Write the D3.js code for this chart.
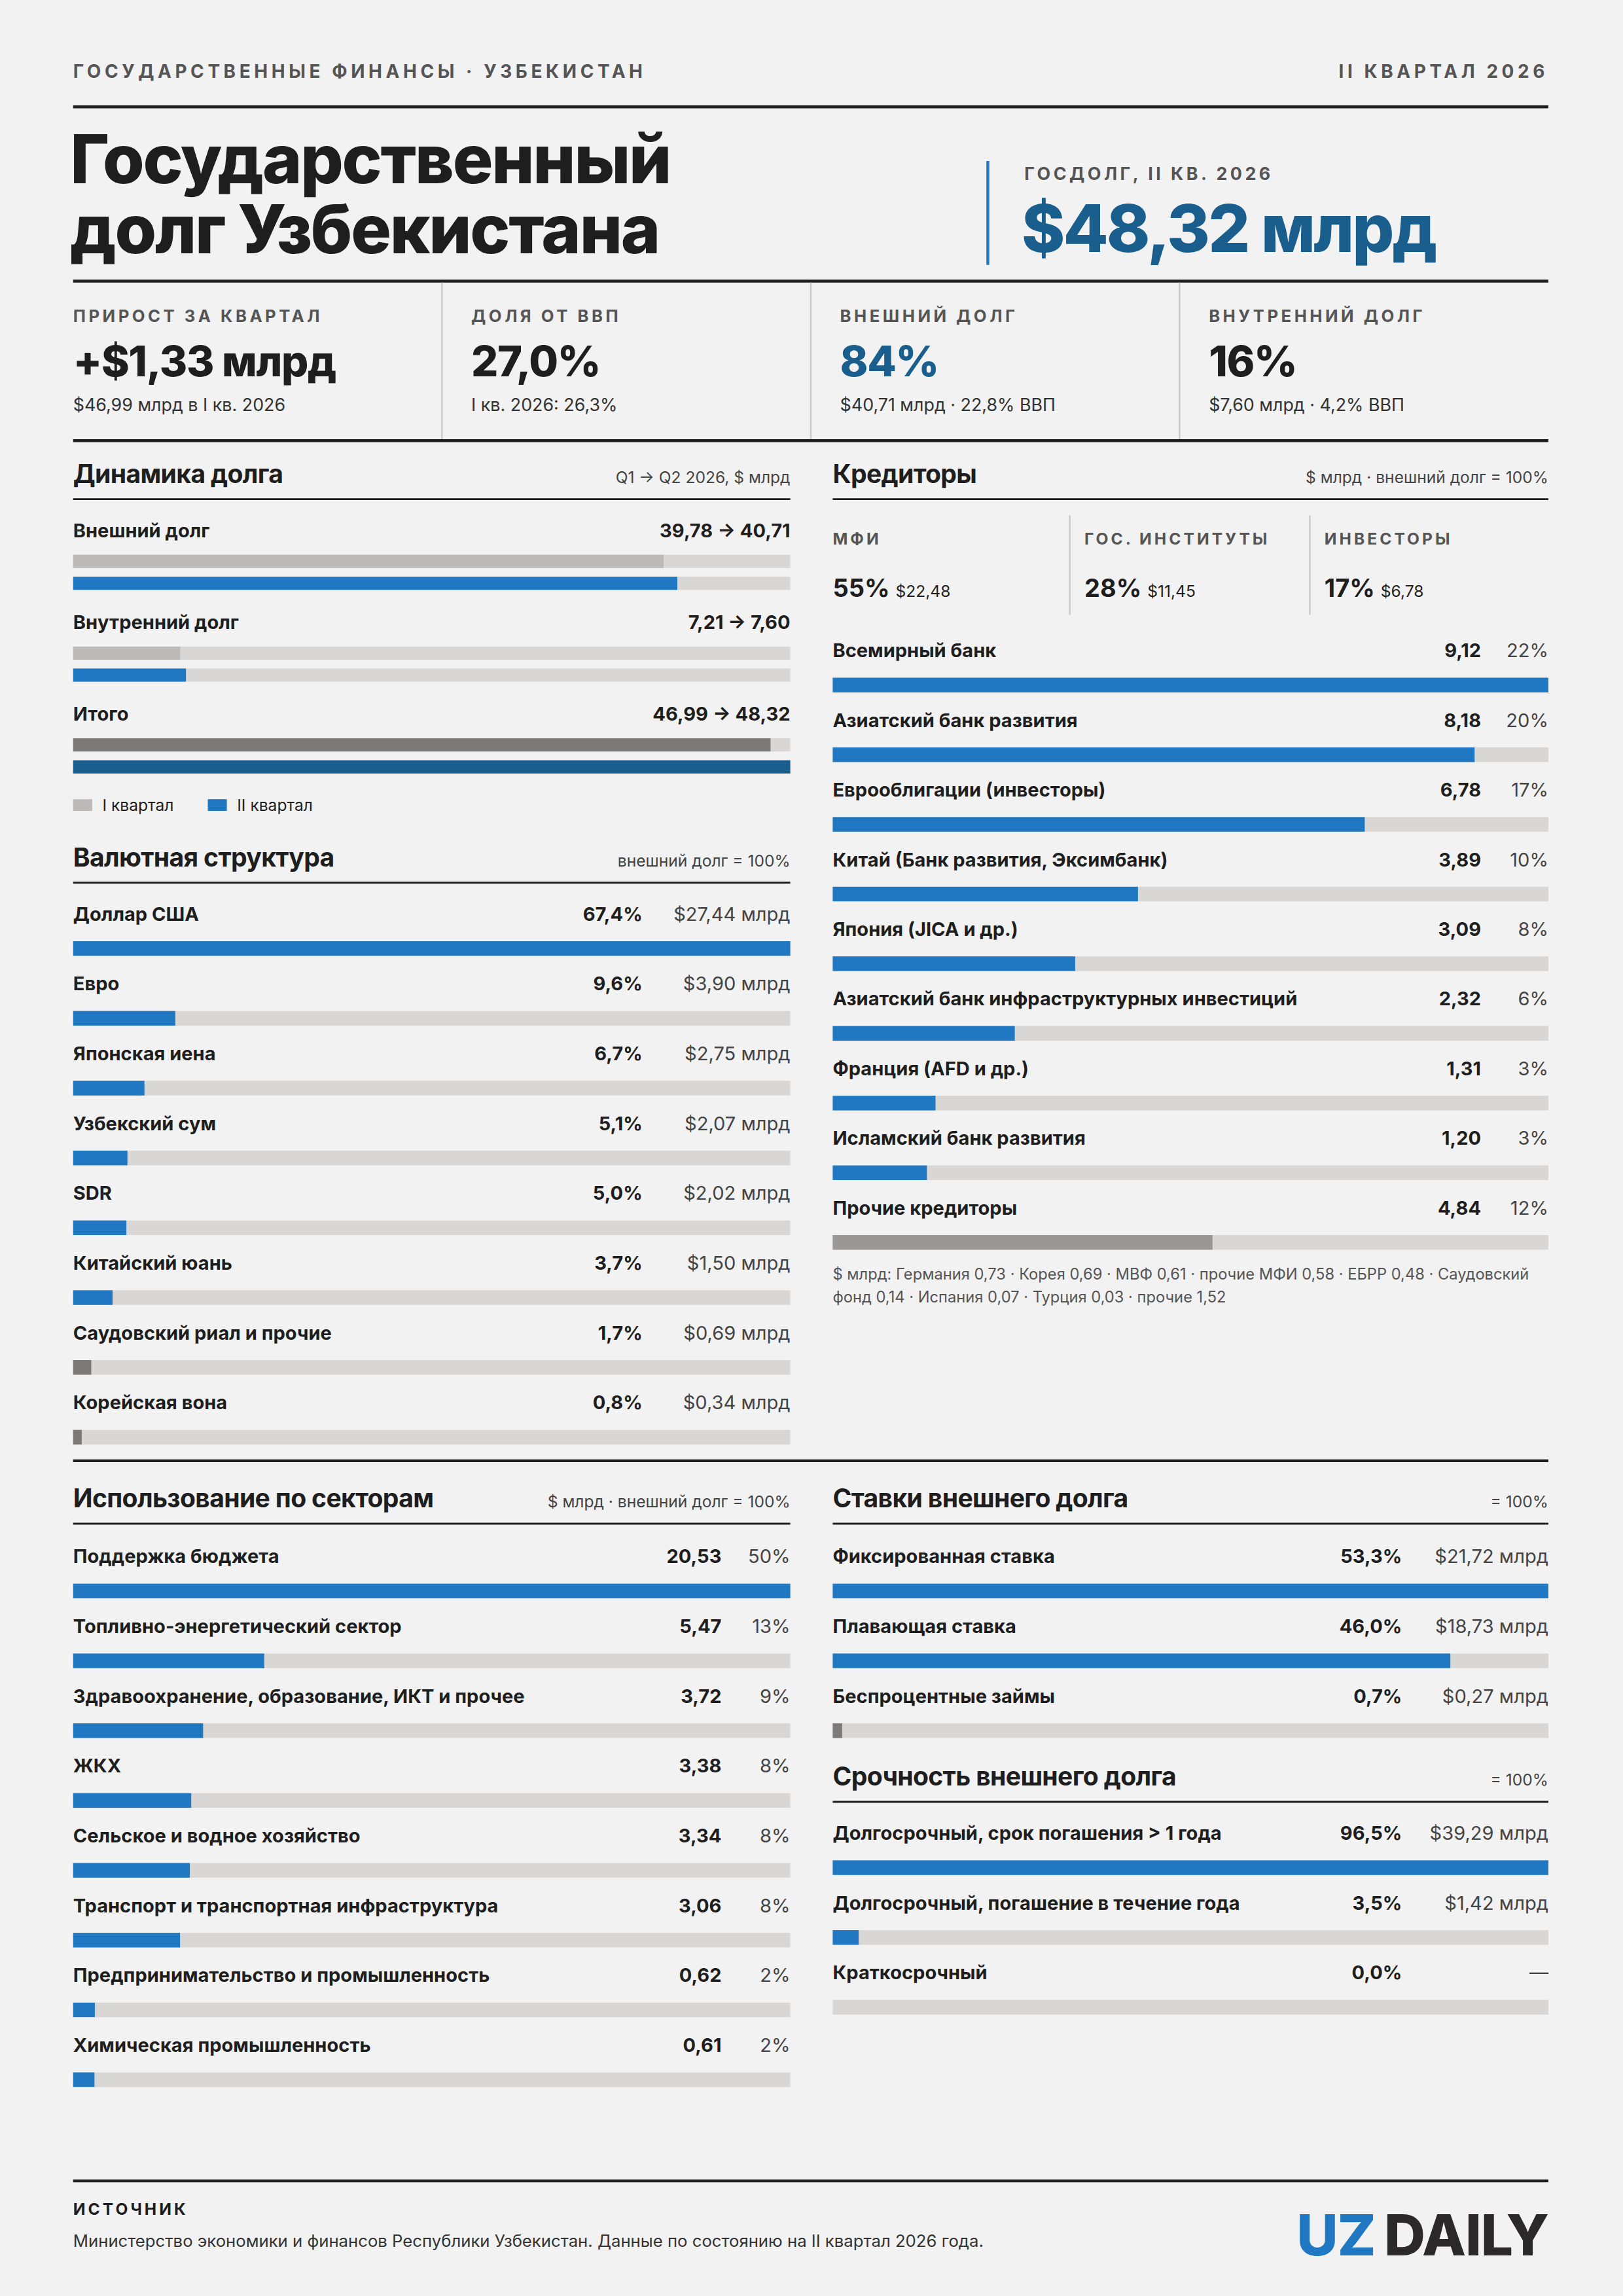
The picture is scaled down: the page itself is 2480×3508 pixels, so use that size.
<!DOCTYPE html>
<html><head><meta charset="utf-8">
<script src="https://cdn.jsdelivr.net/npm/d3@7"></script>
<style>
html,body{margin:0;padding:0;background:#f2f2f2;}
svg{display:block;font-family:Inter,"Noto Sans",sans-serif;}
</style></head><body>
<svg id="chart"></svg>
<script>
// ---- data ----
var dynLabels = ["Внешний долг", "Внутренний долг", "Итого"];
var dynQ1 = [39.78, 7.21, 46.99];
var dynQ2 = [40.71, 7.60, 48.32];

var curLabels = ["Доллар США", "Евро", "Японская иена", "Узбекский сум", "SDR", "Китайский юань", "Саудовский риал и прочие", "Корейская вона"];
var curPct = [67.4, 9.6, 6.7, 5.1, 5.0, 3.7, 1.7, 0.8];
var curAmt = [27.44, 3.90, 2.75, 2.07, 2.02, 1.50, 0.69, 0.34];

var credLabels = ["Всемирный банк", "Азиатский банк развития", "Еврооблигации (инвесторы)", "Китай (Банк развития, Эксимбанк)", "Япония (JICA и др.)", "Азиатский банк инфраструктурных инвестиций", "Франция (AFD и др.)", "Исламский банк развития", "Прочие кредиторы"];
var credVal = [9.12, 8.18, 6.78, 3.89, 3.09, 2.32, 1.31, 1.20, 4.84];
var credPct = [22, 20, 17, 10, 8, 6, 3, 3, 12];
var credGroups = ["МФИ", "ГОС. ИНСТИТУТЫ", "ИНВЕСТОРЫ"];
var credGroupPct = [55, 28, 17];
var credGroupVal = [22.48, 11.45, 6.78];

var secLabels = ["Поддержка бюджета", "Топливно-энергетический сектор", "Здравоохранение, образование, ИКТ и прочее", "ЖКХ", "Сельское и водное хозяйство", "Транспорт и транспортная инфраструктура", "Предпринимательство и промышленность", "Химическая промышленность"];
var secVal = [20.53, 5.47, 3.72, 3.38, 3.34, 3.06, 0.62, 0.61];
var secPct = [50, 13, 9, 8, 8, 8, 2, 2];

var rateLabels = ["Фиксированная ставка", "Плавающая ставка", "Беспроцентные займы"];
var ratePct = [53.3, 46.0, 0.7];
var rateAmt = [21.72, 18.73, 0.27];

var matLabels = ["Долгосрочный, срок погашения > 1 года", "Долгосрочный, погашение в течение года", "Краткосрочный"];
var matPct = [96.5, 3.5, 0.0];
var matAmt = [39.29, 1.42, null];

// ---- setup ----
var W = 1109, H = 1568.6;
var BLUE = "#1f78c1", DBLUE = "#1a5e8e", INK = "#1e1e1e", GREY = "#555", TRACK = "#d9d7d5", DARKG = "#7d7977";
var svg = d3.select("#chart").attr("width", 2480).attr("height", 3508).attr("viewBox", "0 0 " + W + " " + H);
svg.append("rect").attr("width", W).attr("height", H).attr("fill", "#f2f2f2");
var fmt = function (v, d) { return v.toFixed(d).replace(".", ","); };

function txt(x, y, s, o) {
  o = o || {};
  return svg.append("text").attr("x", x).attr("y", y).text(s)
    .attr("font-size", o.size || 13).attr("font-weight", o.w || 400)
    .attr("fill", o.fill || INK).attr("text-anchor", o.anchor || "start")
    .attr("letter-spacing", o.ls || 0);
}
function rule(x1, x2, y, sw, c) {
  svg.append("line").attr("x1", x1).attr("x2", x2).attr("y1", y).attr("y2", y)
    .attr("stroke", c || INK).attr("stroke-width", sw || 1);
}

// header
txt(50, 53, "ГОСУДАРСТВЕННЫЕ ФИНАНСЫ · УЗБЕКИСТАН", {size: 12.5, w: 700, fill: GREY, ls: 2.5});
txt(1058, 53, "II КВАРТАЛ 2026", {size: 12.5, w: 700, fill: GREY, ls: 2.5, anchor: "end"});
rule(50, 1058, 73, 2);
txt(48, 125, "Государственный", {size: 46, w: 800, ls: -1});
txt(48, 173, "долг Узбекистана", {size: 46, w: 800, ls: -1});
svg.append("line").attr("x1", 675).attr("x2", 675).attr("y1", 110).attr("y2", 181).attr("stroke", BLUE).attr("stroke-width", 2);
txt(700, 123, "ГОСДОЛГ, II КВ. 2026", {size: 12, w: 700, fill: GREY, ls: 2});
txt(698, 172, "$48,32 млрд", {size: 45, w: 800, fill: DBLUE, ls: -1.3});
rule(50, 1058, 192, 2);

// KPI row
var kpiX = [50, 322, 574, 826];
var kpiL = ["ПРИРОСТ ЗА КВАРТАЛ", "ДОЛЯ ОТ ВВП", "ВНЕШНИЙ ДОЛГ", "ВНУТРЕННИЙ ДОЛГ"];
var kpiV = ["+$1,33 млрд", "27,0%", "84%", "16%"];
var kpiS = ["$46,99 млрд в I кв. 2026", "I кв. 2026: 26,3%", "$40,71 млрд · 22,8% ВВП", "$7,60 млрд · 4,2% ВВП"];
kpiX.forEach(function (x, i) {
  if (i > 0) svg.append("line").attr("x1", x - 20).attr("x2", x - 20).attr("y1", 193).attr("y2", 300).attr("stroke", "#c8c8c8");
  txt(x, 220, kpiL[i], {size: 11.5, w: 700, fill: GREY, ls: 2});
  txt(x, 257, kpiV[i], {size: 29, w: 800, fill: i == 2 ? DBLUE : INK, ls: -0.6});
  txt(x, 281, kpiS[i], {size: 12, fill: "#333"});
});
rule(50, 1058, 301, 2);

function sectionHead(x0, x1, y, title, note) {
  txt(x0, y, title, {size: 17.5, w: 700, ls: -0.3});
  txt(x1, y, note, {size: 11, fill: "#444", anchor: "end"});
  rule(x0, x1, y + 11, 1.3);
}

// generic bar list: label, bold value at xv, right text at x1
function barList(x0, x1, y0, step, labels, vals, scale, valTxt, xv, rightTxt, colorFn) {
  var x = d3.scaleLinear().domain([0, scale]).range([x0, x1]);
  labels.forEach(function (l, i) {
    var y = y0 + i * step;
    txt(x0, y, l, {size: 13, w: 700});
    txt(xv, y, valTxt[i], {size: 13, w: 700, anchor: "end"});
    txt(x1, y, rightTxt[i], {size: 13, fill: "#444", anchor: "end"});
    svg.append("rect").attr("x", x0).attr("y", y + 14).attr("width", x1 - x0).attr("height", 10).attr("fill", TRACK);
    svg.append("rect").attr("x", x0).attr("y", y + 14).attr("width", x(vals[i]) - x0).attr("height", 10).attr("fill", colorFn(i));
  });
}

// Dynamics
sectionHead(50, 540, 330, "Динамика долга", "Q1 → Q2 2026, $ млрд");
var xd = d3.scaleLinear().domain([0, d3.max(dynQ2)]).range([50, 540]);
dynLabels.forEach(function (l, i) {
  var y = 367 + i * 62.7;
  txt(50, y, l, {size: 13, w: 700});
  txt(540, y, fmt(dynQ1[i], 2) + " → " + fmt(dynQ2[i], 2), {size: 13, w: 700, anchor: "end"});
  var last = i == dynLabels.length - 1;
  svg.append("rect").attr("x", 50).attr("y", y + 12).attr("width", 490).attr("height", 9).attr("fill", TRACK);
  svg.append("rect").attr("x", 50).attr("y", y + 12).attr("width", xd(dynQ1[i]) - 50).attr("height", 9).attr("fill", last ? DARKG : "#bdbbb9");
  svg.append("rect").attr("x", 50).attr("y", y + 27).attr("width", 490).attr("height", 9).attr("fill", TRACK);
  svg.append("rect").attr("x", 50).attr("y", y + 27).attr("width", xd(dynQ2[i]) - 50).attr("height", 9).attr("fill", last ? DBLUE : BLUE);
});
svg.append("rect").attr("x", 50).attr("y", 546).attr("width", 13).attr("height", 8).attr("fill", "#bdbbb9");
txt(70, 554, "I квартал", {size: 11});
svg.append("rect").attr("x", 142).attr("y", 546).attr("width", 13).attr("height", 8).attr("fill", BLUE);
txt(162, 554, "II квартал", {size: 11});

// Currency
sectionHead(50, 540, 592, "Валютная структура", "внешний долг = 100%");
barList(50, 540, 629, 47.7, curLabels, curPct, d3.max(curPct),
  curPct.map(function (v) { return fmt(v, 1) + "%"; }), 439,
  curAmt.map(function (v) { return "$" + fmt(v, 2) + " млрд"; }),
  function (i) { return i >= 6 ? DARKG : BLUE; });

// Creditors
sectionHead(569, 1058, 330, "Кредиторы", "$ млрд · внешний долг = 100%");
var gx = [569, 741, 905];
gx.forEach(function (x, i) {
  if (i > 0) svg.append("line").attr("x1", x - 10).attr("x2", x - 10).attr("y1", 352).attr("y2", 420).attr("stroke", "#c8c8c8");
  txt(x, 372, credGroups[i], {size: 11, w: 700, fill: GREY, ls: 1.8});
  var t = txt(x, 408, credGroupPct[i] + "%", {size: 17, w: 700});
  t.append("tspan").attr("font-size", 11).attr("font-weight", 400).attr("dx", 4).text("$" + fmt(credGroupVal[i], 2));
});
barList(569, 1058, 449, 47.6, credLabels, credVal, d3.max(credVal),
  credVal.map(function (v) { return fmt(v, 2); }), 1012,
  credPct.map(function (v) { return v + "%"; }),
  function (i) { return i == credLabels.length - 1 ? "#9a9694" : BLUE; });
txt(569, 874, "$ млрд: Германия 0,73 · Корея 0,69 · МВФ 0,61 · прочие МФИ 0,58 · ЕБРР 0,48 · Саудовский", {size: 10.6, fill: "#555"});
txt(569, 890, "фонд 0,14 · Испания 0,07 · Турция 0,03 · прочие 1,52", {size: 10.6, fill: "#555"});

rule(50, 1058, 998, 2);

// Sectors
sectionHead(50, 540, 1030, "Использование по секторам", "$ млрд · внешний долг = 100%");
barList(50, 540, 1068, 47.7, secLabels, secVal, d3.max(secVal),
  secVal.map(function (v) { return fmt(v, 2); }), 493,
  secPct.map(function (v) { return v + "%"; }),
  function () { return BLUE; });

// Rates
sectionHead(569, 1058, 1030, "Ставки внешнего долга", "= 100%");
barList(569, 1058, 1068, 47.7, rateLabels, ratePct, d3.max(ratePct),
  ratePct.map(function (v) { return fmt(v, 1) + "%"; }), 958,
  rateAmt.map(function (v) { return "$" + fmt(v, 2) + " млрд"; }),
  function (i) { return i == 2 ? DARKG : BLUE; });

// Maturity
sectionHead(569, 1058, 1220, "Срочность внешнего долга", "= 100%");
barList(569, 1058, 1257, 47.7, matLabels, matPct, d3.max(matPct),
  matPct.map(function (v) { return fmt(v, 1) + "%"; }), 958,
  matAmt.map(function (v) { return v == null ? "—" : "$" + fmt(v, 2) + " млрд"; }),
  function () { return BLUE; });

// footer
rule(50, 1058, 1490, 2);
txt(50, 1513, "ИСТОЧНИК", {size: 11, w: 700, ls: 1.8});
txt(50, 1535, "Министерство экономики и финансов Республики Узбекистан. Данные по состоянию на II квартал 2026 года.", {size: 11.5, fill: "#333"});
var logo = txt(1058, 1541, "", {size: 39, w: 800, anchor: "end", ls: -0.5});
logo.append("tspan").attr("fill", BLUE).text("UZ");
logo.append("tspan").attr("fill", "#2a2828").attr("dx", 6).text("DAILY");
</script>
</body></html>
